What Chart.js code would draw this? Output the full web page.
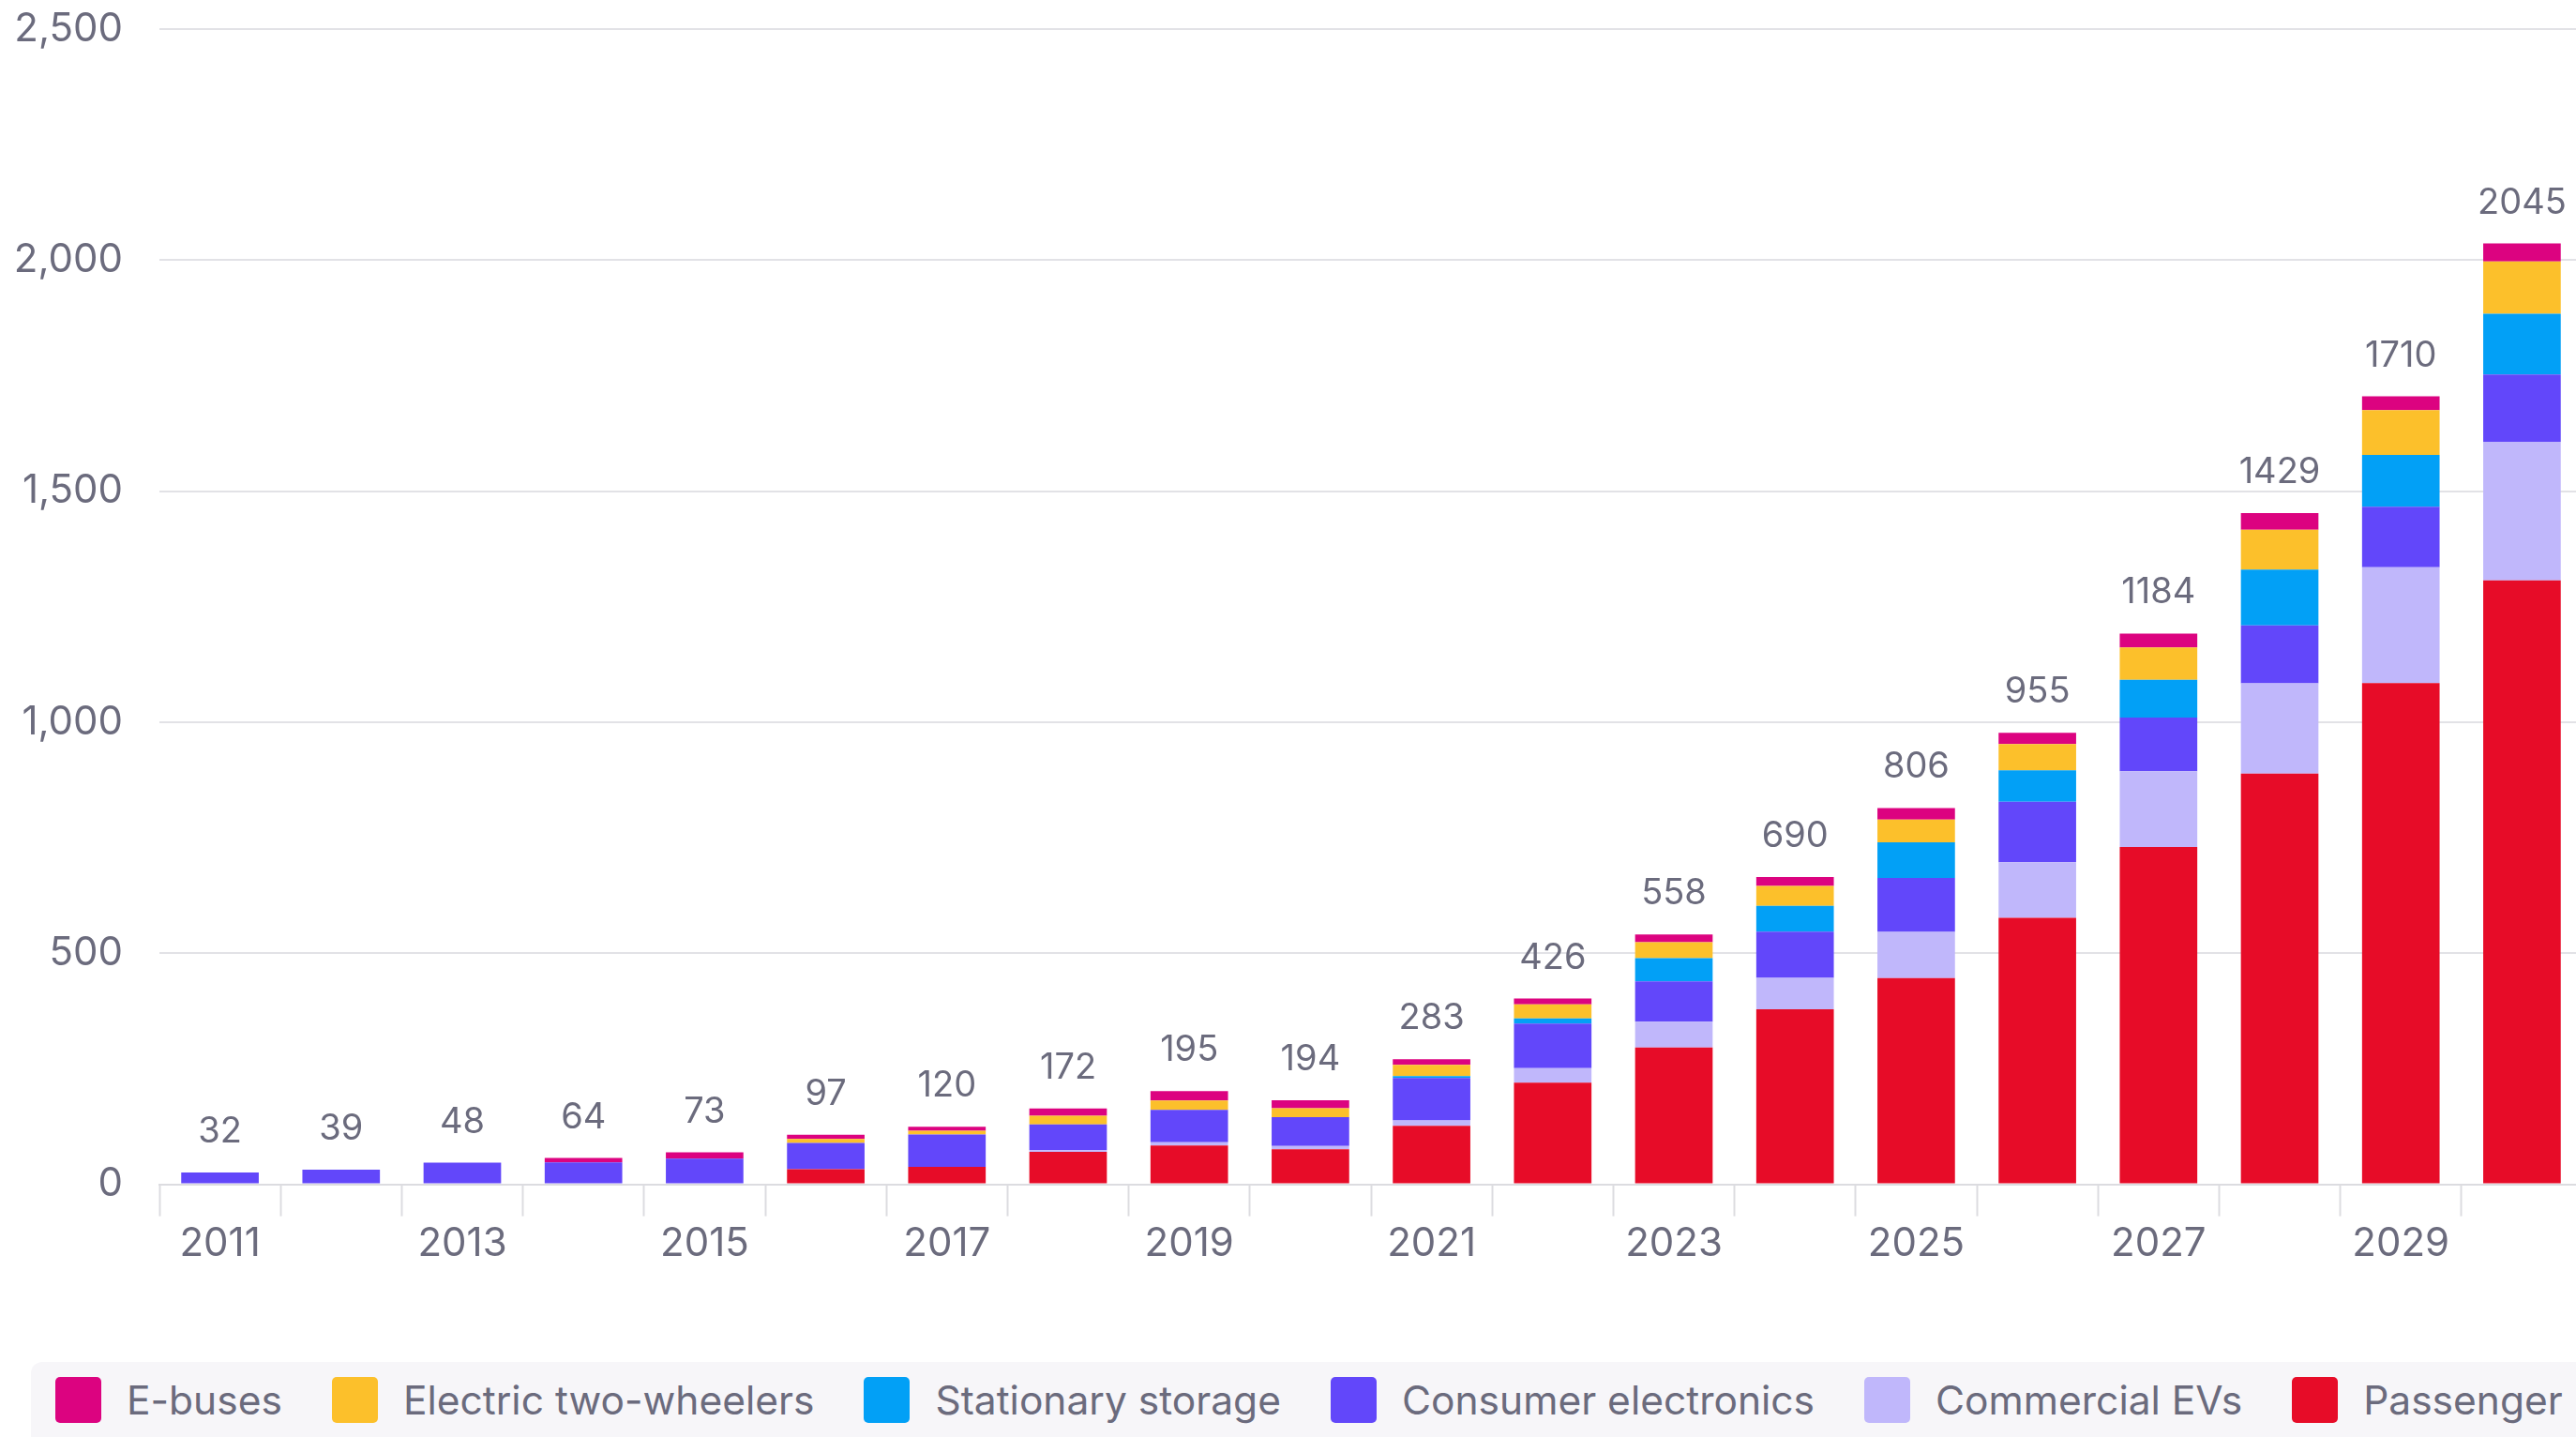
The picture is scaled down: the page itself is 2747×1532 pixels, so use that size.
<!DOCTYPE html>
<html>
<head>
<meta charset="utf-8">
<script src="https://cdn.jsdelivr.net/npm/chart.js@4.4.1/dist/chart.umd.min.js"></script>
<style>
    html, body { margin: 0; padding: 0; background: #fff; overflow: hidden; }
    #page { position: relative; width: 2747px; height: 1532px; overflow: hidden; }
    #chartBox { position: absolute; left: 0; top: -33px; width: 2774px; height: 1413px; }
    #legend {
        position: absolute; left: 33px; top: 1452px; width: 3400px; height: 80px;
        background: #f7f6f9; border-top-left-radius: 12px;
        display: flex; align-items: center; white-space: nowrap;
        font-family: Inter, sans-serif; font-size: 42.5px; color: #6b6b7d;
    }
    .item { display: flex; align-items: center; flex-shrink: 0; margin-left: 26px; margin-right: 27px; }
    .swatch { width: 49px; height: 49px; flex-shrink: 0; border-radius: 5px; margin-right: 27px; }
</style>
</head>
<body>
<div id="page">
    <div id="chartBox"><canvas id="batteryCanvas"></canvas></div>
    <div id="legend"></div>
</div>
<script>
const years = ['2011', '2012', '2013', '2014', '2015', '2016', '2017', '2018', '2019', '2020',
    '2021', '2022', '2023', '2024', '2025', '2026', '2027', '2028', '2029', '2030'];
const passengerEVs = [0, 0, 0, 0, 0, 32.5, 38, 70, 84, 76, 126.5, 220, 296, 379, 446.5, 577, 730, 889, 1085, 1307];
const commercialEVs = [0, 0, 0, 0, 0, 0, 0, 4, 7, 7, 12, 31.5, 56, 68, 100, 120, 164, 195.5, 250.5, 300];
const consumerElectronics = [25.7, 31.8, 46.7, 47.4, 55.5, 57, 70, 55.5, 70, 62.5, 91.5, 96.5, 87, 100, 116.5, 131, 116, 125, 131, 146];
const stationaryStorage = [0, 0, 0, 0, 0, 0, 0, 0, 0, 0, 4, 11, 50.6, 55.6, 77, 68, 82, 121, 112, 131];
const twoWheelers = [0, 0, 0, 0, 0, 8.6, 8, 19, 20.5, 19, 24.4, 30.6, 34.4, 43.4, 49.5, 57, 70, 86.5, 97, 113.5];
const eBuses = [0, 0, 0, 9.5, 13.5, 9, 8.7, 15.5, 20, 17.5, 12.2, 12.4, 16.6, 19, 25, 24, 30, 36, 30, 38.8];
const totals = [32, 39, 48, 64, 73, 97, 120, 172, 195, 194, 283, 426, 558, 690, 806, 955, 1184, 1429, 1710, 2045];
const yTicks = [0, 500, 1000, 1500, 2000, 2500];

const canvas = document.getElementById('batteryCanvas');
const legendBox = document.getElementById('legend');
const textGray = '#6b6b7d';

Chart.defaults.font.family = 'Inter';
Chart.defaults.color = textGray;

// total above each stack, anchored to the top of the drawn bar
const totalLabels = {
    id: 'totalLabels',
    afterDatasetsDraw(chart) {
        const {ctx} = chart;
        const meta = chart.getDatasetMeta(chart.data.datasets.length - 1);
        ctx.save();
        ctx.font = '38px Inter';
        ctx.fillStyle = textGray;
        ctx.textAlign = 'center';
        ctx.textBaseline = 'alphabetic';
        meta.data.forEach((bar, i) => {
            ctx.fillText(totals[i], bar.x, bar.y - 32);
        });
        ctx.restore();
    }
};

const data = {
    labels: years,
    datasets: [
        {label: 'Passenger EVs', backgroundColor: '#e70c28', data: passengerEVs},
        {label: 'Commercial EVs', backgroundColor: '#c0b7fb', data: commercialEVs},
        {label: 'Consumer electronics', backgroundColor: '#6247fa', data: consumerElectronics},
        {label: 'Stationary storage', backgroundColor: '#02a0f6', data: stationaryStorage},
        {label: 'Electric two-wheelers', backgroundColor: '#fcc02b', data: twoWheelers},
        {label: 'E-buses', backgroundColor: '#dc0380', data: eBuses}
    ]
};

const config = {
    type: 'bar',
    data,
    options: {
        responsive: true,
        maintainAspectRatio: false,
        animation: false,
        categoryPercentage: 0.8,
        barPercentage: 0.8,
        layout: {padding: {top: 0, right: 20, bottom: 23, left: 0}},
        plugins: {
            legend: {display: false},
            tooltip: {enabled: false}
        },
        scales: {
            x: {
                stacked: true,
                grid: {
                    offset: true,
                    drawOnChartArea: false,
                    drawTicks: true,
                    tickLength: 34,
                    tickWidth: 2,
                    tickColor: '#dcdce0'
                },
                border: {display: true, color: '#dcdce0', width: 2},
                ticks: {
                    autoSkip: false,
                    maxRotation: 0,
                    padding: 5,
                    font: {size: 42},
                    color: textGray,
                    callback: function(value, index) {
                        return index % 2 === 0 ? this.getLabelForValue(value) : '';
                    }
                }
            },
            y: {
                stacked: true,
                min: 0,
                max: 2500,
                afterFit: (scale) => { scale.width = 170; },
                afterBuildTicks: (scale) => { scale.ticks = yTicks.map((v) => ({value: v})); },
                grid: {color: '#e2e2e6', lineWidth: 2, drawTicks: false},
                border: {display: false},
                ticks: {
                    padding: 39,
                    font: {size: 42},
                    color: textGray,
                    callback: (value) => value.toLocaleString('en-US')
                }
            }
        }
    },
    plugins: [totalLabels]
};

const batteryChart = new Chart(canvas, config);

// legend runs top of stack first, like the original
const buildLegend = () => {
    [...batteryChart.data.datasets].reverse().forEach((ds) => {
        const item = document.createElement('div');
        item.className = 'item';
        const swatch = document.createElement('span');
        swatch.className = 'swatch';
        swatch.style.background = ds.backgroundColor;
        const text = document.createElement('span');
        text.textContent = ds.label;
        item.appendChild(swatch);
        item.appendChild(text);
        legendBox.appendChild(item);
    });
}

buildLegend();
</script>
</body>
</html>
